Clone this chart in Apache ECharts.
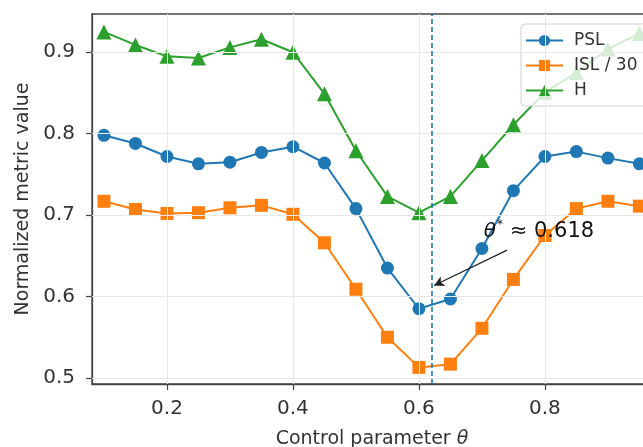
<!DOCTYPE html>
<html><head><meta charset="utf-8">
<script src="https://cdn.jsdelivr.net/npm/echarts@6/dist/echarts.min.js"></script>
<style>html,body{margin:0;padding:0;background:#fff}#c{width:643px;height:447px}</style>
</head><body><div id="c"></div>
<script>
const theta = [0.10,0.15,0.20,0.25,0.30,0.35,0.40,0.45,0.50,0.55,0.60,0.65,0.70,0.75,0.80,0.85,0.90,0.95];
const psl   = [0.798,0.788,0.772,0.763,0.765,0.777,0.784,0.764,0.708,0.635,0.585,0.597,0.659,0.730,0.772,0.778,0.770,0.763];
const isl30 = [0.717,0.707,0.702,0.703,0.709,0.712,0.701,0.666,0.609,0.550,0.513,0.517,0.561,0.621,0.675,0.708,0.717,0.711];
const hval  = [0.925,0.909,0.895,0.893,0.906,0.916,0.900,0.849,0.779,0.723,0.703,0.723,0.767,0.811,0.851,0.875,0.904,0.923];
const xTicks = [0.2,0.4,0.6,0.8];
const yTicks = [0.5,0.6,0.7,0.8,0.9];
const seriesNames = ['PSL','ISL / 30','H'];
const thetaStar = 0.618;
const arrowTail = [0.74, 0.657];
const arrowHead = [0.624, 0.6135];
const annotPos = [0.703, 0.680];

const C = ['#1f77b4','#ff7f0e','#2ca02c'];
const txt = '#333';
const pair = (ys) => theta.map((x,i)=>[x, ys[i]]);
const FONT = 'DejaVu Sans';

const chart = echarts.init(document.getElementById('c'), null, {renderer:'canvas'});
chart.setOption({
  animation:false,
  textStyle:{fontFamily:FONT},
  grid:{left:92, top:14, width:560, bottom:63, outerBoundsMode:'none', containLabel:false,
    show:true, borderColor:'#444', borderWidth:1.3, backgroundColor:'transparent'},
  xAxis:{type:'value', min:0.081, max:0.97,
    axisLine:{show:true, onZero:false, lineStyle:{color:'#444', width:1.3}},
    axisTick:{show:true, customValues:xTicks, length:6, lineStyle:{color:'#444', width:1.2}},
    axisLabel:{customValues:xTicks, formatter:v=>v.toFixed(1), fontSize:20, color:txt, margin:15, fontFamily:FONT},
    splitLine:{show:false},
    name:'Control parameter {i|θ}', nameLocation:'middle', nameGap:46,
    nameTextStyle:{fontSize:19, color:txt, fontFamily:FONT,
      rich:{i:{fontSize:19, fontStyle:'italic', color:txt, fontFamily:FONT}}}},
  yAxis:{type:'value', min:0.4926, max:0.947,
    axisLine:{show:true, onZero:false, lineStyle:{color:'#444', width:1.3}},
    axisTick:{show:true, customValues:yTicks, length:6, lineStyle:{color:'#444', width:1.2}},
    axisLabel:{customValues:yTicks, formatter:v=>v.toFixed(1), fontSize:20, color:txt, margin:17, fontFamily:FONT},
    splitLine:{show:false},
    name:'Normalized metric value', nameLocation:'middle', nameGap:59, nameRotate:90,
    nameTextStyle:{fontSize:19, color:txt, fontFamily:FONT}},
  legend:{data:seriesNames, orient:'vertical', left:521, top:24,
    backgroundColor:'rgba(255,255,255,0.8)', borderColor:'#d0d0d0', borderWidth:1, borderRadius:4,
    padding:[8,40,7,4], itemWidth:37, itemHeight:14, itemGap:8,
    textStyle:{fontSize:17, color:txt, fontFamily:FONT, padding:[0,0,0,6]}},
  series:[
    {type:'line', name:'grid', data:[], silent:true, z:0,
      markLine:{silent:true, symbol:['none','none'], label:{show:false},
        lineStyle:{color:'#e8e8e8', width:1, type:'solid'},
        data:[...xTicks.map(v=>({xAxis:v})), ...yTicks.map(v=>({yAxis:v}))]}},
    {type:'line', name:seriesNames[0], data:pair(psl), symbol:'circle', symbolSize:13,
      itemStyle:{color:C[0]}, lineStyle:{color:C[0], width:2}, z:3},
    {type:'line', name:seriesNames[1], data:pair(isl30), symbol:'rect', symbolSize:13,
      itemStyle:{color:C[1]}, lineStyle:{color:C[1], width:2}, z:3},
    {type:'line', name:seriesNames[2], data:pair(hval), symbol:'triangle', symbolSize:15,
      itemStyle:{color:C[2]}, lineStyle:{color:C[2], width:2}, z:3},
    {type:'line', name:'annot', data:[], silent:true, z:5,
      markLine:{silent:true, animation:false, symbol:['none','none'], label:{show:false},
        data:[
          {xAxis:thetaStar, lineStyle:{color:C[0], width:1.6, type:[5,3]}},
          [{coord:arrowTail, symbol:'none'},{coord:arrowHead, symbol:'arrow', symbolSize:[8,10]}]
        ],
        lineStyle:{color:'#222', width:1.2, type:'solid'}},
      markPoint:{silent:true, symbol:'circle', symbolSize:0,
        data:[{coord:annotPos,
          label:{show:true, position:'right', distance:0,
            formatter:'{i|θ}{s|*}{n| ≈ 0.618}',
            rich:{
              i:{fontSize:20, fontStyle:'italic', color:'#111', fontFamily:FONT},
              s:{fontSize:12, color:'#111', fontFamily:FONT, padding:[0,0,14,1]},
              n:{fontSize:21, color:'#111', fontFamily:FONT}
            }}}]}}
  ]
});
</script></body></html>
